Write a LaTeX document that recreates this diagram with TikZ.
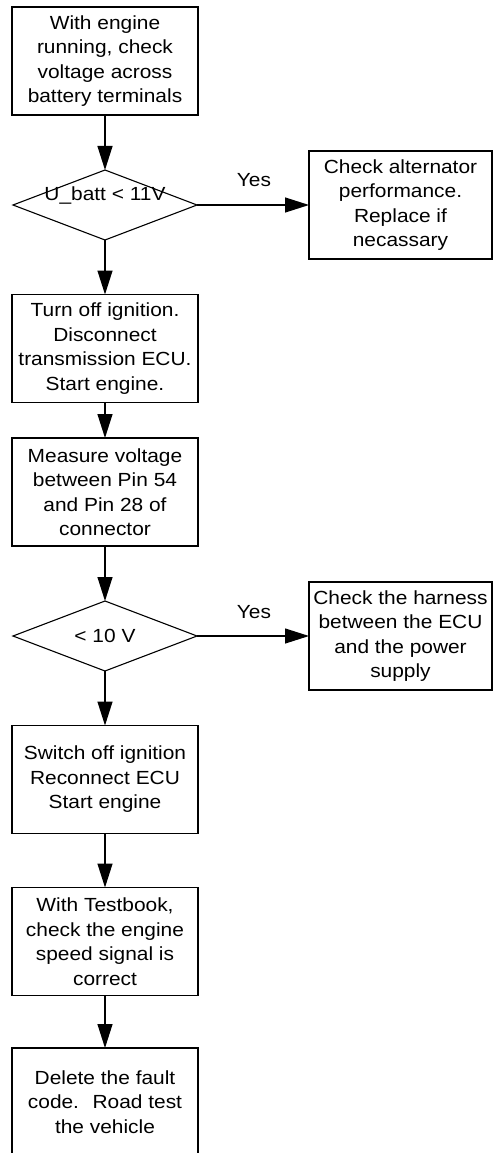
\documentclass[tikz,border=0pt]{standalone}
\usepackage{fontspec}
\setmainfont{Liberation Sans}[FakeStretch=1.1]
\usetikzlibrary{shapes.geometric,arrows.meta}

\begin{document}
\begin{tikzpicture}[x=1pt,y=-1pt,
		every node/.style={font=\fontsize{19}{24.5}\selectfont,inner sep=0pt,outer sep=0pt},
		stepbox/.style={draw,line width=1.2pt,align=center,minimum width=186pt,minimum height=108pt},
		sidebox/.style={stepbox,minimum width=183pt},
		decision/.style={draw,diamond,line width=1.1pt,aspect=2.6,minimum width=184pt,minimum height=70pt},
		flow/.style={line width=1.2pt,-{Triangle[length=24pt,width=15pt]}}]
		\clip (0,0) rectangle (493,1153);
		\node[stepbox](check) at (105,61) {With engine\\running, check\\voltage across\\battery terminals};
		\node[decision,label={[yshift=9pt]center:U\_batt < 11V}](ubatt) at (105,205) {};
		\node[sidebox](alt) at (400.5,205) {Check alternator\\performance.\\Replace if\\necassary};
		\node(yesa) at (254,180) {Yes};
		\node[stepbox](ignoff) at (105,348.5) {Turn off ignition.\\Disconnect\\transmission ECU.\\Start engine.};
		\node[stepbox](measure) at (105,492) {Measure voltage\\between Pin 54\\and Pin 28 of\\connector};
		\node[decision](ten) at (105,636) {< 10 V};
		\node[sidebox](harness) at (400.5,636) {Check the harness\\between the ECU\\and the power\\supply};
		\node(yesb) at (254,612) {Yes};
		\node[stepbox](ignon) at (105,779.5) {Switch off ignition\\Reconnect ECU\\Start engine};
		\node[stepbox](testbook) at (105,941.5) {With Testbook,\\check the engine\\speed signal is\\correct};
		\node[stepbox](delete) at (105,1102) {Delete the fault\\code.~ Road test\\the vehicle};
		\draw[flow](check)--(ubatt);
		\draw[flow](ubatt.east)--(alt.west);
		\draw[flow](ubatt)--(ignoff);
		\draw[flow](ignoff)--(measure);
		\draw[flow](measure)--(ten);
		\draw[flow](ten.east)--(harness.west);
		\draw[flow](ten)--(ignon);
		\draw[flow](ignon)--(testbook);
		\draw[flow](testbook)--(delete);
	\end{tikzpicture}
\end{document}
